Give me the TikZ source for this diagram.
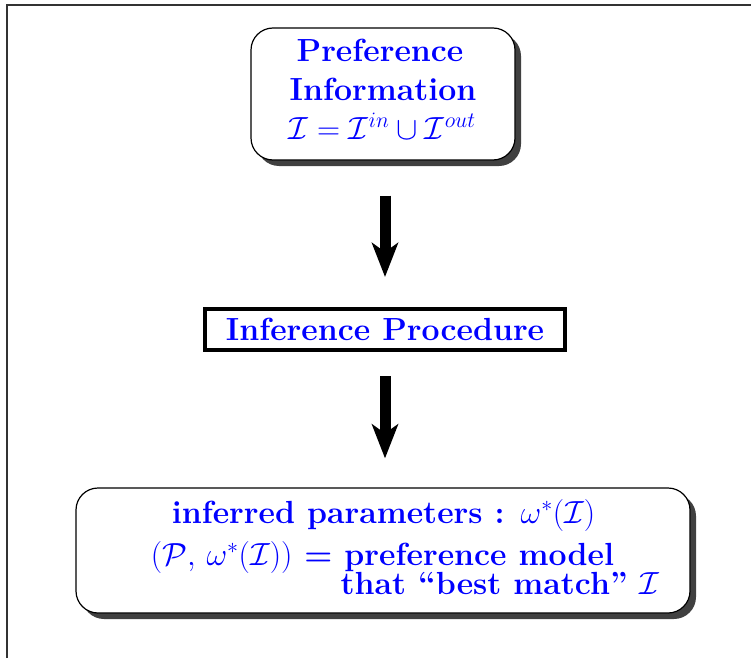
\documentclass[tikz,border=0pt]{standalone}
\usepackage{fix-cm}
\DeclareMathSizes{32}{32}{22}{16}
\usetikzlibrary{arrows.meta,shadows}
\begin{document}
\begin{tikzpicture}[x=1pt,y=-1pt,
  txt/.style={font=\fontsize{32}{37}\selectfont\bfseries, text=blue},
  line/.style={txt, anchor=base, inner sep=0pt},
  roundbox/.style={draw=black, line width=1.2pt, fill=white,
    rounded corners=22pt, inner sep=0pt,
    general shadow={fill=black!75, shadow xshift=6pt, shadow yshift=-6pt}},
  plainbox/.style={txt, draw=black, line width=4pt, fill=white,
    inner sep=0pt},
  bigarrow/.style={line width=11pt, draw=black,
    -{Stealth[length=34pt,width=26pt,inset=9pt]}},
  frameline/.style={draw=black!80, line width=1.5pt}]
\useasboundingbox (0,0) rectangle (751,658);
% frame
\coordinate (ftl) at (7,5);
\coordinate (ftr) at (751,5);
\coordinate (fbl) at (7,658);
\draw[frameline] (fbl) -- (ftl) -- (ftr);
% top box
\node[roundbox, minimum width=264pt, minimum height=132pt] (info) at (383,94) {};
\node[line] (info1) at (380,62) {Preference};
\node[line] (info2) at (383,101) {Information};
\node[line] (info3) at (382,139) {$\mathcal{I}=\mathcal{I}^{in}\cup\mathcal{I}^{out}$};
% middle box
\node[plainbox, minimum width=360pt, minimum height=41pt] (proc) at (385,329.5)
  {Inference Procedure};
% bottom box
\node[roundbox, minimum width=614pt, minimum height=125pt] (model) at (383,550.5) {};
\node[line] (model1) at (383.5,523) {inferred parameters : $\omega^*(\mathcal{I})$};
\node[line] (model2) at (382.5,565) {$(\mathcal{P},\,\omega^*(\mathcal{I}))$ = preference model};
\node[line] (model3) at (500,594) {that ``best match'' $\mathcal{I}$};
% arrows
\draw[bigarrow, shorten <=35pt, shorten >=30pt] (info.south -| proc.north) -- (proc.north);
\draw[bigarrow, shorten <=24pt, shorten >=29pt] (proc.south) -- (proc.south |- model.north);
\end{tikzpicture}
\end{document}
